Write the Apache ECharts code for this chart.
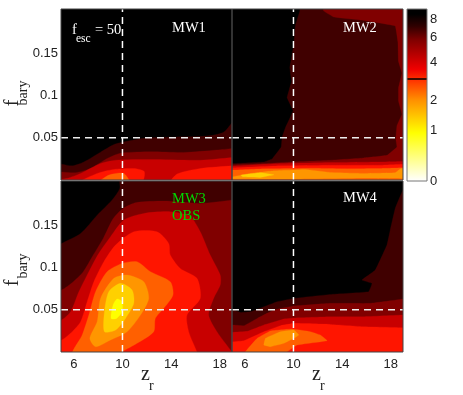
<!DOCTYPE html>
<html><head><meta charset="utf-8">
<style>html,body{margin:0;padding:0;background:#fff}#c{width:463px;height:395px}</style>
<script src="https://cdn.jsdelivr.net/npm/echarts@6/dist/echarts.min.js"></script>
</head><body><div id="c"></div>
<script>
const levelColors = ['#000000','#400000','#800000','#c80000','#ff1500','#ff6000','#ff9600','#ffd000','#ffff00'];
const xTicks = [6,10,14,18];
const yTicks = [0.05,0.1,0.15];
const refX = 10, refY = 0.05;
const colorTicks = [0,1,2,4,6,8];
const colorLine = 3;
const colorTop = 9.35;
const colorStops = [[0,'#ffffff'],[0.28,'#ffff00'],[0.47,'#ff9000'],[0.59,'#ff3000'],[0.65,'#f00000'],[0.82,'#800000'],[0.9,'#300000'],[0.97,'#000000'],[1,'#000000']];
const full = [[4,-.01],[20,-.01],[20,.21],[4,.21]];

// MW1 contour boundaries [z_r, f_bary]
const mw1_l1 = [[4,.0187],[5,.0187],[5.87,.0168],[6.83,.0214],[8.2,.033],[9.3,.042],[10.1,.045],[11.75,.0495],[13.66,.0507],[16.9,.052],[18.3,.0565],[19,.068],[20,.09],[20,-.01],[4,-.01]];
const mw1_l2 = [[4,.0087],[6.15,.0087],[7.38,.0137],[8.74,.0255],[9.56,.0306],[10.1,.0323],[12.3,.0335],[15.03,.0327],[17.76,.0355],[19,.0374],[20,.04],[20,-.01],[4,-.01]];
const mw1_l3 = [[4,-.002],[5.46,.002],[6.56,.0078],[8.2,.0195],[9.43,.0234],[12.3,.0242],[16.39,.0234],[19,.0265],[20,.028],[20,-.01],[4,-.01]];
const mw1_l4a = [[6.2,-.005],[7.92,.0078],[9.29,.0125],[10.93,.0136],[11.8,.0098],[11.5,-.005]];
const mw1_l4b = [[13.9,-.005],[14.48,.007],[16.39,.0136],[19,.0168],[20,.018],[20,-.005]];
const mw1_l5 = [[8,-.004],[8.88,.0058],[10.1,.0078],[10.6,-.004]];

// MW2
const mw2_l1 = [[10.6,.21],[10.52,.2],[10.16,.183],[10.03,.16],[9.7,.133],[9.84,.117],[9.48,.0975],[9.97,.082],[9.34,.062],[9.07,.051],[8.99,.039],[8.25,.025],[7.57,.0214],[5,.0195],[4,.0195],[4,-.01],[20,-.01],[20,.21]];
const mw2_l2 = [[12.3,.21],[12.49,.2],[13.31,.193],[15.77,.189],[18.36,.1825],[18.58,.1637],[18.63,.1404],[18.91,.1267],[18.63,.109],[18.63,.0936],[18.91,.078],[18.5,.0643],[18.41,.0487],[18.5,.039],[17.68,.0292],[15.77,.0261],[13.03,.0234],[9.75,.0214],[7.57,.0195],[5,.018],[4,.018],[4,-.01],[20,-.01],[20,.21]];
const mw2_l3 = [[4,.0164],[5,.0164],[8.93,.0195],[13.03,.0207],[17.13,.0214],[19,.022],[20,.022],[20,-.01],[4,-.01]];
const mw2_l4 = [[4,.0144],[5,.0144],[8.93,.0168],[13.03,.0175],[17.13,.0175],[19,.0187],[20,.0187],[20,-.01],[4,-.01]];
const mw2_l5 = [[4,.0117],[5,.0117],[7.57,.0133],[11.67,.014],[14.4,.0133],[17.13,.0136],[19,.0144],[20,.0144],[20,-.01],[4,-.01]];
const mw2_l6 = [[4,.0035],[5,.0039],[6.48,.0078],[8.39,.0109],[10.98,.0125],[13.03,.009],[15.77,.0078],[18.36,.0086],[18.83,.0136],[20,.0136],[20,.002],[15.77,.0023],[10.3,.0012],[5,.0016]];
const mw2_l7 = [[5.66,.0058],[7.3,.0086],[8.39,.0062],[7.3,.0031],[5.82,.0039]];

// MW3
const mw3_l1 = [[9.84,.21],[9.78,.1937],[9.15,.18],[7.92,.162],[6.56,.1404],[5,.1286],[4,.12],[4,-.01],[20,-.01],[20,.21]];
const mw3_l2 = [[4,.07],[5,.0734],[5.96,.0832],[6.78,.095],[7.6,.1148],[8.42,.1345],[9.24,.158],[10.05,.17],[11.15,.177],[13.66,.1787],[16.39,.176],[19,.18],[20,.182],[20,-.01],[4,-.01]];
const mw3_l3 = [[4,.033],[5,.0379],[5.74,.0477],[6.42,.0714],[7.24,.0951],[8.06,.1168],[9.02,.1365],[10.11,.1562],[11.75,.1641],[13.93,.1661],[15.57,.1602],[16.39,.1424],[17.21,.1148],[18.03,.0911],[18.03,.0793],[17.49,.0635],[17.08,.0438],[17.76,.0241],[19,0],[19.5,-.01],[4,-.01]];
const mw3_l4 = [[4,.012],[5,.0142],[5.87,.0241],[6.56,.0359],[7.1,.0596],[7.65,.0832],[8.47,.1069],[9.43,.1266],[10.93,.1424],[12.84,.1424],[13.8,.1286],[13.93,.1148],[14.75,.099],[16.12,.0872],[16.39,.0635],[15.3,.0438],[15.44,.0241],[16.12,0],[16.3,-.01],[4,-.01]];
const mw3_l5 = [[5.9,-.003],[6.69,.0201],[7.24,.0438],[7.79,.0714],[8.74,.0951],[9.97,.1049],[11.2,.1069],[12.3,.0951],[13.93,.0832],[14.15,.0675],[13.39,.0517],[12.7,.0398],[12.57,.0241],[11.2,.0103],[9.29,-.003]];
const mw3_l6 = [[7.32,.0162],[7.92,.0359],[8.2,.0635],[9.29,.0872],[10.38,.0911],[11.75,.0832],[12.16,.0635],[11.48,.0438],[10.38,.0241],[9.02,.0142],[7.79,.0063]];
const mw3_l7 = [[8.52,.0241],[8.52,.0477],[8.88,.0714],[9.84,.0813],[10.79,.0734],[10.93,.0576],[10.25,.0398],[9.43,.026]];
const mw3_l8 = [[9.07,.0398],[9.23,.0556],[9.56,.0627],[9.97,.0596],[9.97,.0477],[9.51,.0398]];

// MW4
const mw4_l1 = [[4,.0497],[5,.0497],[5.66,.0469],[6.48,.0477],[7.57,.0536],[8.66,.0596],[10.03,.0635],[13.03,.0682],[16.17,.0714],[16.45,.0813],[15.63,.0852],[16.72,.097],[17.68,.1266],[17.95,.1444],[18.36,.17],[19,.1917],[20,.21],[20,-.01],[4,-.01]];
const mw4_l2 = [[4,.032],[5,.032],[5.93,.0312],[7.02,.0398],[8.39,.0497],[10.03,.0544],[13.03,.0576],[16.31,.0576],[19,.0627],[20,.065],[20,-.01],[4,-.01]];
const mw4_l3 = [[4,.0233],[5,.0233],[6.2,.0245],[7.57,.032],[9.21,.0391],[10.4,.0405],[13.03,.0418],[15.77,.0418],[19,.0438],[20,.044],[20,-.01],[4,-.01]];
const mw4_l4 = [[4,.0122],[5,.0122],[5.93,.0134],[7.57,.0241],[8.93,.0312],[10.03,.0339],[13.03,.0327],[15.77,.03],[19,.0288],[20,.0285],[20,-.01],[4,-.01]];
const mw4_l5 = [[5.9,-.003],[7.02,.0162],[8.11,.0249],[9.89,.0272],[11.39,.0241],[12.21,.0201],[12.76,.0134],[10.3,.0083],[9.1,-.003]];
const mw4_l6 = [[7.57,.0083],[7.7,.0162],[8.93,.0241],[10.03,.026],[10.44,.0201],[10.03,.0162],[9.21,.0103],[8.11,.0063]];

const panels = [
  {left:61, top:9,  smooth:0.25, c:[[0,full],[1,mw1_l1],[2,mw1_l2],[3,mw1_l3],[4,mw1_l4a],[4,mw1_l4b],[5,mw1_l5]]},
  {left:232,top:9,  smooth:0.05, c:[[0,full],[1,mw2_l1],[2,mw2_l2],[3,mw2_l3],[4,mw2_l4],[5,mw2_l5],[6,mw2_l6],[7,mw2_l7]]},
  {left:61, top:181,smooth:0.25, c:[[0,full],[1,mw3_l1],[2,mw3_l2],[3,mw3_l3],[4,mw3_l4],[5,mw3_l5],[6,mw3_l6],[7,mw3_l7],[8,mw3_l8]]},
  {left:232,top:181,smooth:0.08, c:[[0,full],[1,mw4_l1],[2,mw4_l2],[3,mw4_l3],[4,mw4_l4],[5,mw4_l5],[6,mw4_l6]]}
];

const X0=4.95,X1=19,Y1=0.2025,frame='#444444',tickFont='Liberation Sans',serif='Liberation Serif';
const grids=[],xAxes=[],yAxes=[],series=[];
panels.forEach((p,i)=>{
  grids.push({show:true,z:5,left:p.left,top:p.top,width:171,height:171,backgroundColor:'transparent',borderColor:frame,borderWidth:1});
  xAxes.push({type:'value',gridIndex:i,min:X0,max:X1,splitLine:{show:false},axisTick:{show:false},axisLine:{show:false},
    axisLabel:{show:i>=2,customValues:xTicks,margin:6,fontFamily:tickFont,fontSize:13,color:'#222',hideOverlap:false}});
  yAxes.push({type:'value',gridIndex:i,min:0,max:Y1,splitLine:{show:false},axisTick:{show:false},axisLine:{show:false},
    axisLabel:{show:i%2==0,customValues:yTicks,margin:3,fontFamily:tickFont,fontSize:13,color:'#222',hideOverlap:false,formatter:v=>String(v)}});
  series.push({type:'custom',xAxisIndex:i,yAxisIndex:i,clip:true,silent:true,animation:false,z:2,
    data:p.c.map((c,k)=>[c[1][0][0],c[1][0][1],k]),encode:{x:0,y:1},
    renderItem:(params,api)=>{
      const c=p.c[api.value(2)];
      return {type:'polygon',shape:{points:c[1].map(q=>api.coord(q)),smooth:p.smooth},style:{fill:levelColors[c[0]],stroke:levelColors[c[0]],lineWidth:0.3}};
    }});
  const dash={color:'#ffffff',width:1.5,type:[7,5]};
  series.push({type:'line',xAxisIndex:i,yAxisIndex:i,silent:true,animation:false,symbol:'none',z:4,lineStyle:dash,data:[[refX,0],[refX,Y1]]});
  series.push({type:'line',xAxisIndex:i,yAxisIndex:i,silent:true,animation:false,symbol:'none',z:4,lineStyle:{...dash,color:'#eeeeee'},data:[[X0,refY],[X1,refY]]});
});
// colour bar on a log(1+v) scale
grids.push({show:true,z:5,left:407,top:9,width:20,height:172,backgroundColor:'transparent',borderColor:'#777',borderWidth:1});
xAxes.push({type:'value',gridIndex:4,min:0,max:1,show:false});
yAxes.push({type:'value',gridIndex:4,min:0,max:Math.log1p(colorTop),position:'right',splitLine:{show:false},axisLine:{show:false},
  axisTick:{show:false},axisLabel:{customValues:colorTicks.map(Math.log1p),margin:3,fontFamily:tickFont,fontSize:13,color:'#222',hideOverlap:false,formatter:v=>String(Math.round(Math.expm1(v)))}});
series.push({type:'custom',xAxisIndex:4,yAxisIndex:4,silent:true,animation:false,clip:true,data:[[0,0,1,Math.log1p(colorTop)]],encode:{x:0,y:1},
  renderItem:(params,api)=>{
    const a=api.coord([api.value(0),api.value(1)]),b=api.coord([api.value(2),api.value(3)]);
    return {type:'rect',shape:{x:a[0],y:b[1],width:b[0]-a[0],height:a[1]-b[1]},
      style:{fill:new echarts.graphic.LinearGradient(0,1,0,0,colorStops.map(s=>({offset:s[0],color:s[1]})))}};
  }});
series.push({type:'line',xAxisIndex:4,yAxisIndex:4,silent:true,animation:false,symbol:'none',z:4,lineStyle:{color:'#000',width:1.5},data:[[0,Math.log1p(colorLine)],[1,Math.log1p(colorLine)]]});

const txt=(text,x,y,size,fill,fam,align,rot)=>({type:'text',z:20,x,y,rotation:rot||0,silent:true,
  style:{text,fill,font:size+'px "'+fam+'"',align:align||'left',verticalAlign:'middle'}});
const R=Math.PI/2;
const graphic=[
  txt('MW1',172,28,14.5,'#fff',serif), txt('MW2',343,28,14.5,'#fff',serif),
  txt('MW3',172,199,14.5,'#00d800',serif), txt('OBS',172,216.5,14.5,'#00d800',serif),
  txt('MW4',343,198,14.5,'#fff',serif),
  txt('f',72,30,14.5,'#fff',serif), txt('esc',76,39,11.5,'#fff',serif), txt('= 50',95,30,14.5,'#fff',serif),
  txt('f',13,103,20,'#222',serif,'center',R), txt('bary',23,93,14,'#222',serif,'center',R),
  txt('f',13,283,20,'#222',serif,'center',R), txt('bary',23,266,14,'#222',serif,'center',R),
  txt('z',141,375,20,'#222',serif), txt('r',149,386,14,'#222',serif),
  txt('z',312,375,20,'#222',serif), txt('r',320,386,14,'#222',serif)
];
const chart=echarts.init(document.getElementById('c'),null,{renderer:'canvas'});
chart.setOption({animation:false,backgroundColor:'#fff',grid:grids,xAxis:xAxes,yAxis:yAxes,series,graphic});
</script></body></html>
